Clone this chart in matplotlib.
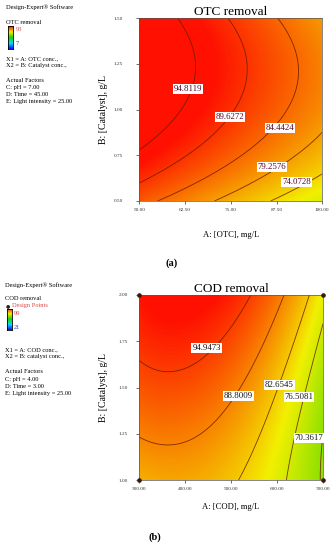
import numpy as np
import matplotlib
matplotlib.use("Agg")
import matplotlib.pyplot as plt
from matplotlib.colors import LinearSegmentedColormap, Normalize

plt.rcParams['font.family'] = ['Liberation Serif', 'DejaVu Serif']

# ---- (a) OTC removal: quadratic model in coded units (A: 50..100, B: 0.5..1.5)
otc_a_range = [50.0, 100.0]
otc_b_range = [0.5, 1.5]
# terms: 1, A, B, A^2, B^2, AB
otc_coef = [89.977, -8.952, 5.791, -0.078, -6.432, -0.529]
otc_levels = [74.0728, 79.2576, 84.4424, 89.6272, 94.8119]
otc_label_pos = [(93.0, 0.602), (86.2, 0.688), (88.4, 0.900), (74.8, 0.961), (63.3, 1.113)]
otc_xticks = [50.0, 62.5, 75.0, 87.5, 100.0]
otc_yticks = [0.50, 0.75, 1.00, 1.25, 1.50]
otc_range = [7, 93]

# ---- (b) COD removal: reduced cubic model in coded units (A: 300..700, B: 1..2)
cod_a_range = [300.0, 700.0]
cod_b_range = [1.0, 2.0]
# terms: 1, A, B, A^2, B^2, AB, A^2B, AB^2, A^3, B^3
cod_coef = [89.954, -10.576, 7.507, -7.359, 0.490, -1.162, -1.431, 1.549, 0.258, -0.401]
cod_levels = [70.3617, 76.5081, 82.6545, 88.8009, 94.9473]
cod_label_pos = [(670.0, 1.227), (648.0, 1.447), (605.0, 1.514), (516.0, 1.454), (447.0, 1.712)]
cod_xticks = [300, 400, 500, 600, 700]
cod_yticks = [1.00, 1.25, 1.50, 1.75, 2.00]
cod_range = [21, 99]
cod_design_a = [300, 300, 700, 700]
cod_design_b = [1.0, 2.0, 1.0, 2.0]

W, H = 336, 550
de_cmap = LinearSegmentedColormap.from_list(
    'de', [(0.0, '#1010ff'), (0.25, '#00e0ff'), (0.5, '#20d000'),
           (0.75, '#f2f000'), (1.0, '#ff1000')])


def coded(v, rng):
    return (v - (rng[0] + rng[1]) / 2) / ((rng[1] - rng[0]) / 2)


def otc_model(A, B):
    a, b = coded(A, otc_a_range), coded(B, otc_b_range)
    c = otc_coef
    return c[0] + c[1]*a + c[2]*b + c[3]*a*a + c[4]*b*b + c[5]*a*b


def cod_model(A, B):
    a, b = coded(A, cod_a_range), coded(B, cod_b_range)
    c = cod_coef
    return (c[0] + c[1]*a + c[2]*b + c[3]*a*a + c[4]*b*b + c[5]*a*b
            + c[6]*a*a*b + c[7]*a*b*b + c[8]*a**3 + c[9]*b**3)


def px_axes(x0, y0, x1, y1):
    return fig.add_axes([x0 / W, 1 - y1 / H, (x1 - x0) / W, (y1 - y0) / H])


def ftext(x, y, s, **kw):
    kw.setdefault('fontsize', 4.6)
    kw.setdefault('va', 'center')
    fig.text(x / W, 1 - y / H, s, **kw)


def draw_panel(ax, model, arng, brng, vrange, levels, label_pos, xticks, yticks,
               title, xlabel, label_color, ypad):
    A = np.linspace(arng[0], arng[1], 300)
    B = np.linspace(brng[0], brng[1], 300)
    AA, BB = np.meshgrid(A, B)
    Z = model(AA, BB)
    norm = Normalize(vmin=vrange[0], vmax=vrange[1])
    ax.imshow(Z, origin='lower', extent=[arng[0], arng[1], brng[0], brng[1]],
              aspect='auto', cmap=de_cmap, norm=norm, interpolation='bilinear')
    ax.contour(AA, BB, Z, levels=levels, colors='#6a1a00', linewidths=0.6, alpha=0.85)
    # contour values in white boxes, as Design-Expert draws them
    for lev, (x, y) in zip(levels, label_pos):
        ax.text(x, y, f'{lev:.4f}', fontsize=6.3, ha='center', va='center',
                color=label_color,
                bbox=dict(facecolor='white', edgecolor='none', pad=0.6))
    ax.set_xlim(arng)
    ax.set_ylim(brng)
    ax.set_xticks(xticks)
    ax.set_xticklabels([f'{v:.2f}' for v in xticks])
    ax.set_yticks(yticks)
    ax.set_yticklabels([f'{v:.2f}' for v in yticks])
    ax.tick_params(labelsize=3.8, length=2, width=0.5, colors='#333333')
    ax.tick_params(axis='y', pad=ypad)
    ax.tick_params(axis='x', pad=3)
    for s in ax.spines.values():
        s.set_linewidth(0.5)
        s.set_color('#555555')
    ax.set_title(title, fontsize=9.5, pad=2)
    ax.set_xlabel(xlabel, fontsize=6.2)
    ax.set_ylabel('B: [Catalyst], g/L', fontsize=7)


def mini_bar(x0, y0, x1, y1):
    cax = px_axes(x0, y0, x1, y1)
    grad = np.linspace(0, 1, 64).reshape(-1, 1)
    cax.imshow(grad, origin='lower', aspect='auto', cmap=de_cmap)
    cax.set_xticks([])
    cax.set_yticks([])
    for s in cax.spines.values():
        s.set_linewidth(0.6)


fig = plt.figure(figsize=(W / 100, H / 100), dpi=100)

# ---- panel (a)
ax1 = px_axes(139.3, 18.3, 322.3, 201)
draw_panel(ax1, otc_model, otc_a_range, otc_b_range, otc_range, otc_levels,
           otc_label_pos, otc_xticks, otc_yticks, 'OTC removal',
           'A: [OTC], mg/L', '#5a0020', 10)
ax1.xaxis.set_label_coords(0.5, -0.165)
ax1.yaxis.set_label_coords(-0.17, 0.5)

ftext(6.5, 7, 'Design-Expert\u00ae Software')
ftext(6.5, 22, 'OTC removal')
mini_bar(8, 26, 13, 49)
ftext(15.5, 29.5, f'{otc_range[1]}', color='#d84848')
ftext(15.5, 43.5, f'{otc_range[0]}', color='#5030a0')
ftext(6.5, 58.5, 'X1 = A: OTC conc.,')
ftext(6.5, 65.7, 'X2 = B: Catalyst conc.,')
ftext(6.5, 80, 'Actual Factors')
ftext(6.5, 87.3, 'C: pH = 7.00')
ftext(6.5, 94.3, 'D: Time = 45.00')
ftext(6.5, 101.3, 'E: Light intensity = 25.00')
ftext(172, 263, '(a)', fontsize=7.5, fontweight='bold', ha='center')

# ---- panel (b)
ax2 = px_axes(139, 295, 323, 480)
draw_panel(ax2, cod_model, cod_a_range, cod_b_range, cod_range, cod_levels,
           cod_label_pos, cod_xticks, cod_yticks, 'COD removal',
           'A: [COD], mg/L', '#111111', 6)
ax2.xaxis.set_label_coords(0.5, -0.125)
ax2.yaxis.set_label_coords(-0.17, 0.5)
ax2.plot(cod_design_a, cod_design_b, 'o', color='#3a1a10', markersize=2.3,
         clip_on=False, zorder=5)

ftext(5, 285, 'Design-Expert\u00ae Software')
ftext(5, 299, 'COD removal')
fig.text(8 / W, 1 - 305.7 / H, '\u25cf', fontsize=3.5, va='center', ha='center',
         color='#222222', family='DejaVu Sans')
ftext(12.5, 305.7, 'Design Points', color='#d84848')
mini_bar(7, 309, 12, 330)
ftext(13.5, 313.5, f'{cod_range[1]}', color='#d84848')
ftext(13.5, 327.5, f'{cod_range[0]}', color='#3040d0')
ftext(5, 350, 'X1 = A: COD conc.,')
ftext(5, 356.8, 'X2 = B: catalyst conc.,')
ftext(5, 371.7, 'Actual Factors')
ftext(5, 379, 'C: pH = 4.00')
ftext(5, 386.7, 'D: Time = 3.00')
ftext(5, 394, 'E: Light intensity = 25.00')
ftext(155, 537, '(b)', fontsize=7.5, fontweight='bold', ha='center')

fig.savefig('out.png', dpi=100)
